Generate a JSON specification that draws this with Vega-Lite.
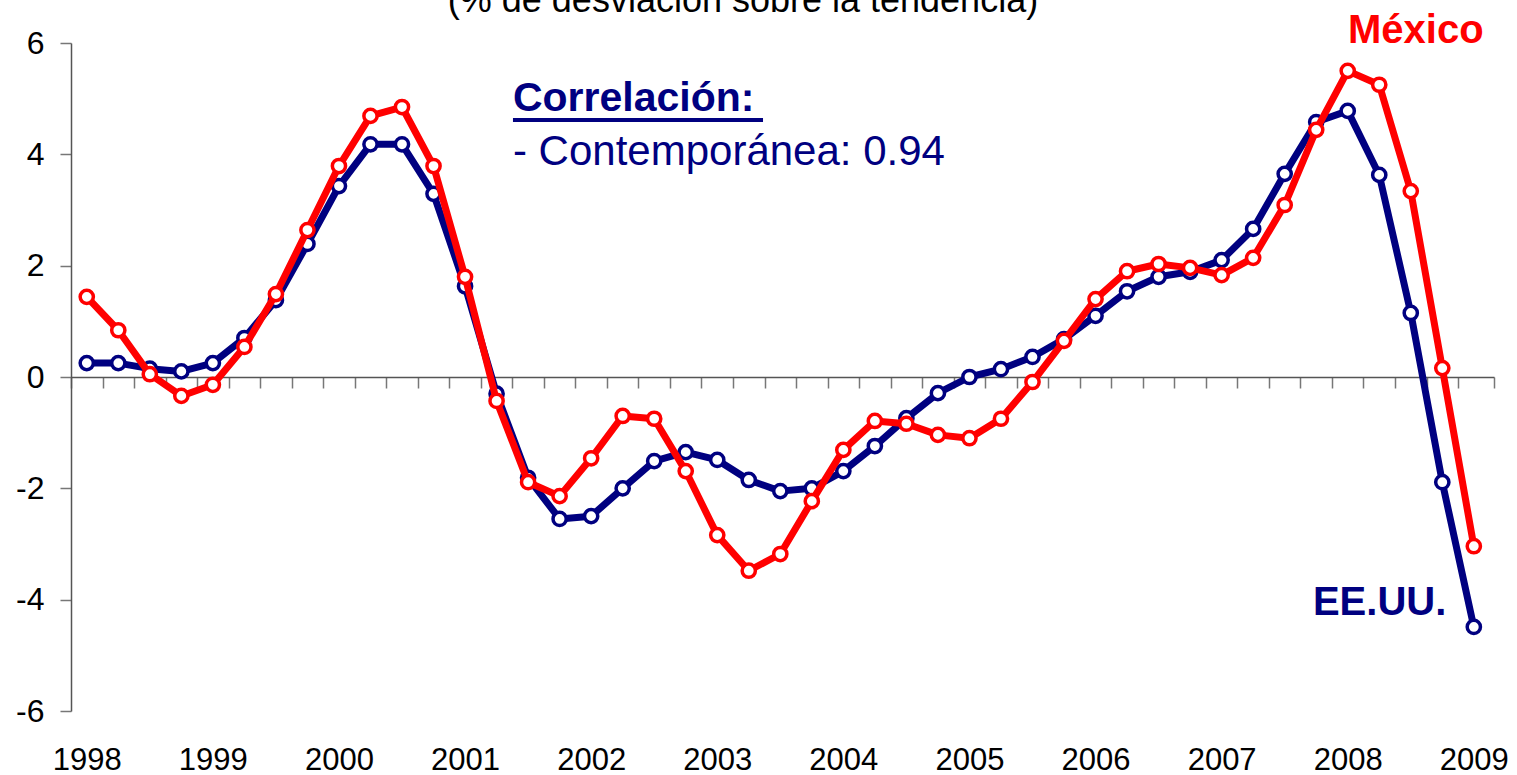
{
  "$schema": "https://vega.github.io/schema/vega-lite/v6.json",
  "autosize": "none",
  "width": 1423,
  "height": 668,
  "padding": {"left": 71, "top": 43, "right": 23, "bottom": 64},
  "background": "white",
  "config": {
    "view": {"stroke": null},
    "font": "Liberation Sans",
    "axis": {"labelFont": "Liberation Sans", "grid": false, "title": null}
  },
  "datasets": {
    "series": [
      {"t": 1998.00, "eeuu": 0.25, "mexico": 1.44},
      {"t": 1998.25, "eeuu": 0.25, "mexico": 0.84},
      {"t": 1998.50, "eeuu": 0.15, "mexico": 0.05},
      {"t": 1998.75, "eeuu": 0.10, "mexico": -0.34},
      {"t": 1999.00, "eeuu": 0.25, "mexico": -0.14},
      {"t": 1999.25, "eeuu": 0.70, "mexico": 0.54},
      {"t": 1999.50, "eeuu": 1.38, "mexico": 1.49},
      {"t": 1999.75, "eeuu": 2.39, "mexico": 2.64},
      {"t": 2000.00, "eeuu": 3.43, "mexico": 3.79},
      {"t": 2000.25, "eeuu": 4.18, "mexico": 4.69},
      {"t": 2000.50, "eeuu": 4.18, "mexico": 4.85},
      {"t": 2000.75, "eeuu": 3.29, "mexico": 3.79},
      {"t": 2001.00, "eeuu": 1.63, "mexico": 1.80},
      {"t": 2001.25, "eeuu": -0.30, "mexico": -0.43},
      {"t": 2001.50, "eeuu": -1.81, "mexico": -1.89},
      {"t": 2001.75, "eeuu": -2.55, "mexico": -2.14},
      {"t": 2002.00, "eeuu": -2.50, "mexico": -1.46},
      {"t": 2002.25, "eeuu": -2.00, "mexico": -0.70},
      {"t": 2002.50, "eeuu": -1.51, "mexico": -0.75},
      {"t": 2002.75, "eeuu": -1.35, "mexico": -1.69},
      {"t": 2003.00, "eeuu": -1.49, "mexico": -2.84},
      {"t": 2003.25, "eeuu": -1.85, "mexico": -3.48},
      {"t": 2003.50, "eeuu": -2.05, "mexico": -3.18},
      {"t": 2003.75, "eeuu": -2.00, "mexico": -2.23},
      {"t": 2004.00, "eeuu": -1.69, "mexico": -1.31},
      {"t": 2004.25, "eeuu": -1.24, "mexico": -0.79},
      {"t": 2004.50, "eeuu": -0.74, "mexico": -0.84},
      {"t": 2004.75, "eeuu": -0.29, "mexico": -1.04},
      {"t": 2005.00, "eeuu": 0.00, "mexico": -1.10},
      {"t": 2005.25, "eeuu": 0.14, "mexico": -0.75},
      {"t": 2005.50, "eeuu": 0.36, "mexico": -0.09},
      {"t": 2005.75, "eeuu": 0.68, "mexico": 0.65},
      {"t": 2006.00, "eeuu": 1.10, "mexico": 1.40},
      {"t": 2006.25, "eeuu": 1.54, "mexico": 1.90},
      {"t": 2006.50, "eeuu": 1.80, "mexico": 2.03},
      {"t": 2006.75, "eeuu": 1.89, "mexico": 1.96},
      {"t": 2007.00, "eeuu": 2.10, "mexico": 1.83},
      {"t": 2007.25, "eeuu": 2.66, "mexico": 2.14},
      {"t": 2007.50, "eeuu": 3.65, "mexico": 3.09},
      {"t": 2007.75, "eeuu": 4.58, "mexico": 4.44},
      {"t": 2008.00, "eeuu": 4.78, "mexico": 5.50},
      {"t": 2008.25, "eeuu": 3.63, "mexico": 5.25},
      {"t": 2008.50, "eeuu": 1.15, "mexico": 3.34},
      {"t": 2008.75, "eeuu": -1.89, "mexico": 0.16},
      {"t": 2009.00, "eeuu": -4.49, "mexico": -3.04}
    ],
    "one": [{"k": 1}]
  },
  "resolve": {"axis": {"x": "independent"}},
  "layer": [
    {
      "data": {"name": "series"},
      "mark": {"type": "line", "color": "#000080", "strokeWidth": 7, "strokeJoin": "round", "strokeCap": "round"},
      "encoding": {
        "x": {
          "field": "t", "type": "quantitative",
          "scale": {"domain": [1997.875, 2009.16], "nice": false, "zero": false},
          "axis": {
            "orient": "bottom",
            "values": [1998, 1999, 2000, 2001, 2002, 2003, 2004, 2005, 2006, 2007, 2008, 2009],
            "labelExpr": "'' + datum.value",
            "domain": false, "ticks": false,
            "labelFontSize": 31, "labelColor": "#000000",
            "labelPadding": 34, "labelFlush": false, "labelOverlap": false
          }
        },
        "y": {
          "field": "eeuu", "type": "quantitative",
          "scale": {"domain": [-6, 6], "nice": false, "zero": false},
          "axis": {
            "values": [-6, -4, -2, 0, 2, 4, 6],
            "labelExpr": "'' + datum.value",
            "domainColor": "#555555", "domainWidth": 1.5,
            "tickColor": "#777777", "tickWidth": 1.5, "tickSize": 11,
            "labelFontSize": 32, "labelColor": "#000000", "labelPadding": 16
          }
        }
      }
    },
    {
      "data": {"name": "series"},
      "mark": {"type": "point", "shape": "circle", "filled": true, "fill": "white", "stroke": "#000080", "strokeWidth": 3.5, "size": 175, "opacity": 1},
      "encoding": {
        "x": {"field": "t", "type": "quantitative", "axis": null},
        "y": {"field": "eeuu", "type": "quantitative"}
      }
    },
    {
      "data": {"name": "series"},
      "mark": {"type": "line", "color": "#FF0000", "strokeWidth": 7, "strokeJoin": "round", "strokeCap": "round"},
      "encoding": {
        "x": {
          "field": "t", "type": "quantitative",
          "axis": {
            "orient": "bottom", "offset": -334,
            "values": [1997.875, 1998.125, 1998.375, 1998.625, 1998.875, 1999.125, 1999.375, 1999.625, 1999.875, 2000.125, 2000.375, 2000.625, 2000.875, 2001.125, 2001.375, 2001.625, 2001.875, 2002.125, 2002.375, 2002.625, 2002.875, 2003.125, 2003.375, 2003.625, 2003.875, 2004.125, 2004.375, 2004.625, 2004.875, 2005.125, 2005.375, 2005.625, 2005.875, 2006.125, 2006.375, 2006.625, 2006.875, 2007.125, 2007.375, 2007.625, 2007.875, 2008.125, 2008.375, 2008.625, 2008.875, 2009.16],
            "labels": false,
            "domainColor": "#555555", "domainWidth": 1.5,
            "tickColor": "#777777", "tickWidth": 1.5, "tickSize": 11
          }
        },
        "y": {"field": "mexico", "type": "quantitative"}
      }
    },
    {
      "data": {"name": "series"},
      "mark": {"type": "point", "shape": "circle", "filled": true, "fill": "white", "stroke": "#FF0000", "strokeWidth": 3.5, "size": 175, "opacity": 1},
      "encoding": {
        "x": {"field": "t", "type": "quantitative", "axis": null},
        "y": {"field": "mexico", "type": "quantitative"}
      }
    },
    {
      "data": {"name": "one"},
      "mark": {"type": "text", "text": "(% de desviación sobre la tendencia)", "fontSize": 36, "align": "center", "baseline": "alphabetic", "color": "#000000"},
      "encoding": {
        "x": {"datum": 2003.204, "type": "quantitative", "axis": null},
        "y": {"datum": 6.557, "type": "quantitative"}
      }
    },
    {
      "data": {"name": "one"},
      "mark": {"type": "text", "text": "Correlación:", "fontSize": 41, "fontWeight": "bold", "align": "left", "baseline": "alphabetic", "color": "#000080"},
      "encoding": {
        "x": {"datum": 2001.38, "type": "quantitative", "axis": null},
        "y": {"datum": 4.778, "type": "quantitative"}
      }
    },
    {
      "data": {"name": "one"},
      "mark": {"type": "rule", "color": "#000080", "strokeWidth": 4},
      "encoding": {
        "x": {"datum": 2001.38, "type": "quantitative", "axis": null},
        "x2": {"datum": 2003.363},
        "y": {"datum": 4.617, "type": "quantitative"}
      }
    },
    {
      "data": {"name": "one"},
      "mark": {"type": "text", "text": "- Contemporánea: 0.94", "fontSize": 42, "align": "left", "baseline": "alphabetic", "color": "#000080"},
      "encoding": {
        "x": {"datum": 2001.38, "type": "quantitative", "axis": null},
        "y": {"datum": 3.808, "type": "quantitative"}
      }
    },
    {
      "data": {"name": "one"},
      "mark": {"type": "text", "text": "México", "fontSize": 40, "fontWeight": "bold", "align": "left", "baseline": "alphabetic", "color": "#FF0000"},
      "encoding": {
        "x": {"datum": 2008.002, "type": "quantitative", "axis": null},
        "y": {"datum": 6.0, "type": "quantitative"}
      }
    },
    {
      "data": {"name": "one"},
      "mark": {"type": "text", "text": "EE.UU.", "fontSize": 40, "fontWeight": "bold", "align": "left", "baseline": "alphabetic", "color": "#000080"},
      "encoding": {
        "x": {"datum": 2007.724, "type": "quantitative", "axis": null},
        "y": {"datum": -4.275, "type": "quantitative"}
      }
    }
  ]
}
